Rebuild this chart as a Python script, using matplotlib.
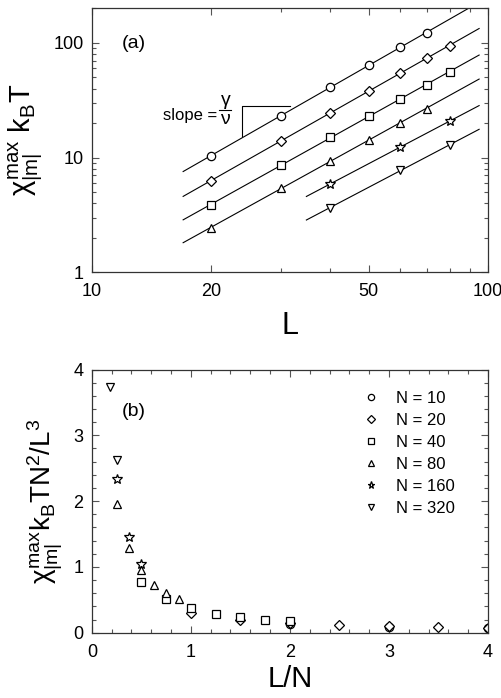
import matplotlib
matplotlib.use('Agg')
import matplotlib.pyplot as plt
import numpy as np

FontSize = 13
LabelSize = 20

# panel (a): chi_max kB T versus L for each N
N_list = [10, 20, 40, 80, 160, 320]
markers = ['o', 'D', 's', '^', '*', 'v']
msizes = [6, 5, 5.5, 6, 7, 6]

La = {10: [20, 30, 40, 50, 60, 70],
      20: [20, 30, 40, 50, 60, 70, 80],
      40: [20, 30, 40, 50, 60, 70, 80],
      80: [20, 30, 40, 50, 60, 70],
      160: [40, 60, 80],
      320: [40, 60, 80]}
chi_a = {10: [10.4, 23.2, 40.9, 63.8, 91.6, 123.0],
         20: [6.27, 14.0, 24.5, 38.3, 54.3, 73.4, 94.6],
         40: [3.87, 8.6, 15.0, 22.9, 32.4, 43.2, 56.1],
         80: [2.44, 5.41, 9.31, 14.3, 20.1, 26.7],
         160: [5.88, 12.4, 20.7],
         320: [3.65, 7.78, 12.8]}
fit_range = {10: [17, 95], 20: [17, 95], 40: [17, 95], 80: [17, 95],
             160: [34.8, 95], 320: [34.8, 95]}

# panel (b): scaled susceptibility versus L/N
xb = {10: [2.0, 3.0, 4.0],
      20: [1.0, 1.5, 2.0, 2.5, 3.0, 3.5, 4.0],
      40: [0.5, 0.75, 1.0, 1.25, 1.5, 1.75, 2.0],
      80: [0.25, 0.375, 0.5, 0.625, 0.75, 0.875],
      160: [0.25, 0.375, 0.5],
      320: [0.1875, 0.25]}
yb = {10: [0.13, 0.09, 0.065],
      20: [0.30, 0.20, 0.15, 0.12, 0.10, 0.09, 0.07],
      40: [0.77, 0.51, 0.38, 0.29, 0.24, 0.20, 0.18],
      80: [1.95, 1.28, 0.95, 0.72, 0.60, 0.51],
      160: [2.33, 1.46, 1.04],
      320: [3.74, 2.62]}

plt.rcParams['font.family'] = ['Liberation Sans', 'DejaVu Sans']
plt.rcParams['mathtext.fontset'] = 'custom'
plt.rcParams['mathtext.rm'] = 'Liberation Sans'
plt.rcParams['mathtext.it'] = 'Liberation Sans'
plt.rcParams['mathtext.bf'] = 'Liberation Sans:bold'

fig = plt.figure(figsize=(5.02, 6.98), dpi=100)
ax1 = fig.add_axes([0.183, 0.610, 0.789, 0.378])
ax2 = fig.add_axes([0.183, 0.0936, 0.789, 0.377])

for ax in [ax1, ax2]:
	ax.tick_params(which='both', direction='in', top=True, right=True, labelsize=FontSize, color='#555555')
	ax.tick_params(which='major', length=5, width=0.8)
	ax.tick_params(which='minor', length=3, width=0.8)
	ax.tick_params(axis='x', which='both', pad=8)
	ax.tick_params(axis='y', which='both', pad=6)
	for s in ax.spines.values():
		s.set_linewidth(0.9)
		s.set_color('#333333')

# panel (a)
for N, m, ms in zip(N_list, markers, msizes):
	x = np.array(La[N])
	y = np.array(chi_a[N])
	p = np.polyfit(np.log10(x), np.log10(y), 1)
	xf = np.array(fit_range[N])
	ax1.plot(xf, 10 ** np.polyval(p, np.log10(xf)), 'k', linewidth=0.8)
	ax1.plot(x, y, linestyle='none', marker=m, markersize=ms, mfc='white', mec='k', mew=0.9)

ax1.set_xscale('log')
ax1.set_yscale('log')
ax1.set_xlim(10, 100)
ax1.set_ylim(1, 200)
ax1.set_xticks([10, 20, 50, 100])
ax1.set_xticklabels(['10', '20', '50', '100'])
ax1.xaxis.set_minor_formatter(matplotlib.ticker.NullFormatter())
ax1.set_yticks([1, 10, 100])
ax1.set_yticklabels(['1', '10', '100'])
ax1.set_xlabel('L', fontsize=LabelSize + 2, labelpad=8)
ax1.set_ylabel(r'$\chi^{\rm max}_{|m|}\ $k$_{\rm B}$T', fontsize=LabelSize + 1, labelpad=6)
ax1.text(0.076, 0.867, '(a)', transform=ax1.transAxes, fontsize=FontSize + 1, va='center')

# slope triangle and label
ax1.plot([24.0, 24.0, 31.6], [15.3, 27.9, 27.9], 'k', linewidth=0.8)
ax1.text(0.316, 0.595, 'slope =', transform=ax1.transAxes, fontsize=12, ha='right', va='center')
ax1.text(0.337, 0.645, r'$\gamma$', transform=ax1.transAxes, fontsize=14, ha='center', va='center')
ax1.text(0.337, 0.578, r'$\nu$', transform=ax1.transAxes, fontsize=14, ha='center', va='center')
ax1.plot([0.322, 0.352], [0.614, 0.614], 'k', linewidth=0.8, transform=ax1.transAxes)

# panel (b)
for N, m, ms in zip(N_list, markers, msizes):
	ax2.plot(xb[N], yb[N], linestyle='none', marker=m, markersize=ms, mfc='white', mec='k', mew=0.9,
		label='N = %d' % N)

ax2.set_xlim(0, 4)
ax2.set_ylim(0, 4)
ax2.set_xticks([0, 1, 2, 3, 4])
ax2.set_yticks([0, 1, 2, 3, 4])
ax2.xaxis.set_minor_locator(matplotlib.ticker.MultipleLocator(0.2))
ax2.yaxis.set_minor_locator(matplotlib.ticker.MultipleLocator(0.2))
ax2.set_xlabel('L/N', fontsize=LabelSize + 1, labelpad=3)
ax2.set_ylabel(r'$\chi^{\rm max}_{|m|}$k$_{\rm B}$TN$^2$/L$^3$', fontsize=LabelSize, labelpad=6)
ax2.text(0.076, 0.84, '(b)', transform=ax2.transAxes, fontsize=FontSize + 1, va='center')
ax2.legend(loc='upper right', bbox_to_anchor=(0.955, 0.975), frameon=False, fontsize=12,
	markerscale=0.75, handlelength=1.0, handletextpad=1.0, labelspacing=0.42)

plt.savefig('out.png', dpi=100)
